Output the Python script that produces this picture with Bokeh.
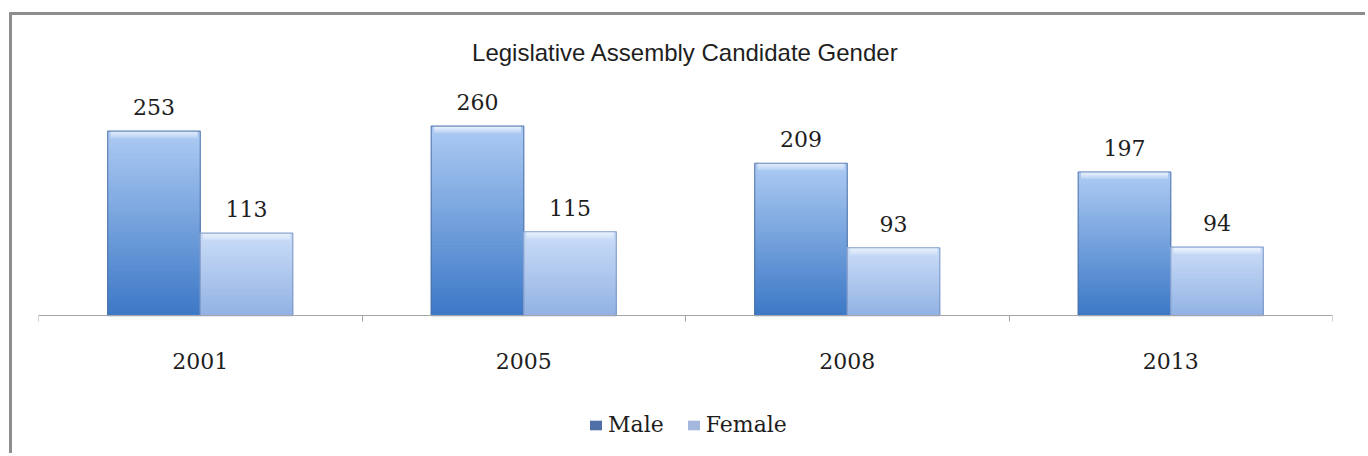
from bokeh.plotting import figure
from bokeh.models import ColumnDataSource, FixedTicker, Legend, LegendItem, Range1d
from bokeh.embed import file_html
from bokeh.resources import INLINE

# ---- data ----
years = ["2001", "2005", "2008", "2013"]
male = [253, 260, 209, 197]
female = [113, 115, 93, 94]
series_names = ["Male", "Female"]
title_text = "Legislative Assembly Candidate Gender"

# ---- styles ----
BAR_W = 0.286
OFFS = [-0.143, 0.143]
GRAD = {  # (top colour, bottom colour)
    "Male": ((0xad, 0xcb, 0xf3), (0x3c, 0x78, 0xc6)),
    "Female": ((0xcb, 0xdd, 0xf8), (0x92, 0xb2, 0xe3)),
}
LEGEND_FILL = {"Male": "#4f6fa8", "Female": "#a3b8dc"}
EDGE = {"Male": "#4e6fa3", "Female": "#7590c2"}
N_SLICES = 48
Y0, Y1 = -193.5, 322.6
FRAME_H = 376
PX = (Y1 - Y0) / FRAME_H      # data units per pixel
BEVEL_PX = 7
N_BEVEL = 7

def hexc(rgb):
    return "#%02x%02x%02x" % tuple(int(round(c)) for c in rgb)

p = figure(width=1356, height=441, output_backend="svg", toolbar_location=None,
           x_range=Range1d(0, 4), y_range=Range1d(Y0, Y1),
           y_axis_location=None, min_border_left=26, min_border_right=36,
           min_border_top=65, min_border_bottom=0,
           background_fill_color="white", border_fill_color="white",
           outline_line_color=None)
p.margin = (12, 0, 0, 9)
p.styles = {"border-top": "3px solid #8e8e8e", "border-left": "3px solid #8e8e8e"}
p.xgrid.visible = False
p.ygrid.visible = False

p.title.text = title_text
p.title.align = "center"
p.title.text_font = "Liberation Sans"
p.title.text_font_size = "24px"
p.title.text_font_style = "normal"
p.title.text_color = "#1e1e1e"
p.title.standoff = 30

legend_items = []
for s, (name, vals) in enumerate(zip(series_names, [male, female])):
    xs = [i + 0.5 + OFFS[s] for i in range(len(years))]
    # base bar (used for legend swatch)
    base = p.vbar(x=xs, top=vals, bottom=0, width=BAR_W,
                  fill_color=LEGEND_FILL[name], line_color=None)
    legend_items.append(LegendItem(label=name, renderers=[base]))
    # gradient slices
    top_c, bot_c = GRAD[name]
    sx, sb, st, sc = [], [], [], []
    for x, v in zip(xs, vals):
        for k in range(N_SLICES):
            f = (k + 0.5) / N_SLICES
            col = tuple(bot_c[j] + (top_c[j] - bot_c[j]) * f for j in range(3))
            sx.append(x)
            sb.append(v * k / N_SLICES)
            st.append(v * (k + 1) / N_SLICES)
            sc.append(hexc(col))
    src = ColumnDataSource(dict(x=sx, bottom=sb, top=st, color=sc))
    p.vbar(x="x", bottom="bottom", top="top", width=BAR_W, source=src,
           fill_color="color", line_color="color", line_width=1)
    # top bevel highlight
    bx, bb, bt, ba = [], [], [], []
    for x, v in zip(xs, vals):
        for k in range(N_BEVEL):
            hi = v - (BEVEL_PX * PX) * k / N_BEVEL
            lo = v - (BEVEL_PX * PX) * (k + 1) / N_BEVEL
            bx.append(x)
            bt.append(hi)
            bb.append(lo)
            ba.append(0.85 * (1 - k / N_BEVEL) ** 0.7)
    bsrc = ColumnDataSource(dict(x=bx, bottom=bb, top=bt, alpha=ba))
    p.vbar(x="x", bottom="bottom", top="top", width=BAR_W * 0.94, source=bsrc,
           fill_color="#f2f7fe", fill_alpha="alpha", line_color=None)
    # edge
    p.vbar(x=xs, top=vals, bottom=0, width=BAR_W, fill_color=None,
           line_color=EDGE[name], line_alpha=0.75, line_width=1.2)
    # value labels
    p.text(x=xs, y=vals, text=[str(v) for v in vals], text_align="center",
           text_baseline="middle", y_offset=-24, text_font_size="22px",
           text_font={"value": "DejaVu Serif"}, text_color="#1e1e1e")

ax = p.xaxis[0]
ax.fixed_location = 0
ax.ticker = FixedTicker(ticks=[i + 0.5 for i in range(len(years))],
                        minor_ticks=[float(i) for i in range(len(years) + 1)])
ax.major_label_overrides = {i + 0.5: y for i, y in enumerate(years)}
ax.major_tick_line_color = None
ax.major_tick_out = 0
ax.major_tick_in = 0
ax.minor_tick_out = 6
ax.minor_tick_in = 0
ax.minor_tick_line_color = "#a6a6a6"
ax.axis_line_color = "#a6a6a6"
ax.major_label_standoff = 31
ax.major_label_text_font = "DejaVu Serif"
ax.major_label_text_font_size = "22px"
ax.major_label_text_color = "#1e1e1e"

legend = Legend(items=legend_items, orientation="horizontal", location=(550, 19),
                label_text_font="DejaVu Serif", label_text_font_size="22px",
                label_text_color="#1e1e1e", glyph_width=15, glyph_height=12,
                label_standoff=5, spacing=22, padding=0, margin=0,
                border_line_color=None, background_fill_alpha=0)
p.add_layout(legend, "center")

open("out.html", "w").write(file_html(p, INLINE))
